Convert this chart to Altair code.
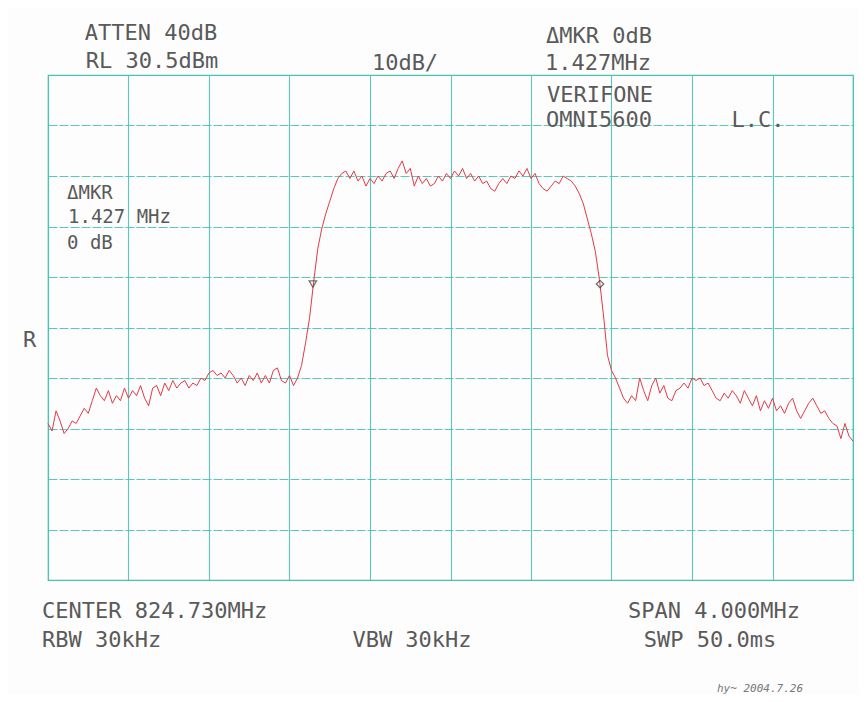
import altair as alt
import pandas as pd

# ---------------- data ----------------
START_MHZ = 822.73          # left edge of the screen
SPAN_MHZ = 4.0              # SPAN 4.000MHz
REF_LEVEL = 30.5            # RL 30.5dBm
DB_PER_DIV = 10             # 10dB/

level_dbm = [
    -38.5, -40.0, -36.0, -38.0, -40.5, -39.5, -38.0, -38.5, -37.0, -35.5,
    -36.5, -34.0, -31.5, -33.0, -34.0, -32.0, -34.5, -33.0, -34.0, -31.5,
    -33.5, -32.0, -33.0, -31.0, -33.5, -35.0, -31.5, -31.0, -33.0, -30.5,
    -32.0, -30.0, -31.5, -30.5, -30.0, -31.5, -30.5, -31.0, -29.5, -30.0,
    -28.5, -28.0, -29.0, -28.5, -29.5, -28.0, -29.0, -30.5, -29.5, -31.0,
    -29.0, -30.0, -28.5, -30.5, -29.0, -30.5, -28.0, -27.5, -30.0, -30.5,
    -29.0, -31.0, -29.5, -27.0, -22.5, -17.5, -10.5, -4.0, 0.0, 3.0,
    5.5, 8.0, 10.0, 11.0, 11.5, 10.0, 11.5, 9.5, 10.5, 8.5,
    10.0, 9.0, 10.5, 9.5, 11.0, 11.5, 10.0, 12.0, 13.5, 11.0,
    12.0, 8.5, 10.5, 9.0, 10.0, 8.5, 9.0, 10.5, 9.5, 11.0,
    10.0, 11.5, 10.5, 12.0, 10.0, 11.0, 9.5, 10.5, 9.0, 9.5,
    8.0, 7.5, 9.0, 10.0, 9.0, 10.5, 10.0, 11.5, 10.5, 12.0,
    10.0, 11.0, 9.0, 8.0, 7.5, 8.5, 9.5, 9.0, 10.5, 10.0,
    9.5, 8.5, 7.0, 5.0, 2.0, -1.0, -4.5, -10.0, -17.0, -25.0,
    -28.0, -29.5, -31.5, -33.5, -34.5, -33.0, -34.0, -29.5, -32.0, -34.0,
    -31.0, -29.5, -32.5, -31.0, -33.5, -34.0, -32.0, -31.5, -30.5, -31.5,
    -29.5, -30.0, -29.5, -31.0, -30.5, -32.0, -33.5, -34.0, -32.5, -33.5,
    -32.0, -33.0, -34.5, -32.0, -33.5, -35.0, -33.0, -36.0, -34.0, -35.5,
    -33.5, -36.0, -35.0, -36.5, -34.5, -33.5, -36.0, -37.5, -36.0, -34.5,
    -33.5, -35.0, -36.5, -36.0, -37.5, -38.5, -39.0, -41.5, -38.5, -41.0,
    -42.0,
]

marker_freq = [824.046, 825.473]
marker_level = [-10.9, -10.9]
marker_kind = ["triangle-down", "diamond"]

# ---------------- styling ----------------
FONT = "DejaVu Sans Mono"
TXT = "#5a5a5a"
GRID = "#48c3b1"
TRACE = "#e23a48"
FS = 22

n = len(level_dbm)
step = SPAN_MHZ / (n - 1)
trace = pd.DataFrame({
    "freq": [START_MHZ + step * i for i in range(n)],
    "level": level_dbm,
})
markers = pd.DataFrame({"freq": marker_freq, "level": marker_level, "kind": marker_kind})

x_ticks = [round(START_MHZ + SPAN_MHZ / 10 * k, 4) for k in range(11)]
y_ticks = [REF_LEVEL - DB_PER_DIV * k for k in range(11)]

x_scale = alt.Scale(domain=[START_MHZ, START_MHZ + SPAN_MHZ], nice=False, zero=False)
y_scale = alt.Scale(domain=[REF_LEVEL - 10 * DB_PER_DIV, REF_LEVEL], nice=False, zero=False)
x_axis = alt.Axis(values=x_ticks, labels=False, ticks=False, domain=False, title=None,
                  grid=True, gridColor=GRID, gridWidth=1.1, gridOpacity=0.9)
y_axis = alt.Axis(values=y_ticks, labels=False, ticks=False, domain=False, title=None,
                  grid=True, gridColor=GRID, gridWidth=1.1, gridOpacity=0.9,
                  gridDash=[9, 2])

line = alt.Chart(trace).mark_line(color=TRACE, strokeWidth=1, interpolate="linear").encode(
    x=alt.X("freq:Q", scale=x_scale, axis=x_axis),
    y=alt.Y("level:Q", scale=y_scale, axis=y_axis),
)

pts = alt.Chart(markers).mark_point(filled=False, color="#3a3a3a", strokeWidth=1.3, size=55).encode(
    x=alt.X("freq:Q", scale=x_scale),
    y=alt.Y("level:Q", scale=y_scale),
    shape=alt.Shape("kind:N", scale=alt.Scale(domain=marker_kind, range=marker_kind), legend=None),
)


def label(text, x, y, align="left", size=FS, style="normal", color=TXT):
    return alt.Chart(pd.DataFrame({"t": [text]})).mark_text(
        align=align, baseline="alphabetic", font=FONT, fontSize=size,
        fontStyle=style, color=color,
    ).encode(text="t:N", x=alt.value(x), y=alt.value(y))


# positions relative to the plot origin (top-left grid corner)
texts = [
    label("ATTEN 40dB", 103, -35, "center"),
    label("RL 30.5dBm", 104, -7, "center"),
    label("10dB/", 357, -5, "center"),
    label("ΔMKR 0dB", 551, -32, "center"),
    label("1.427MHz", 550, -5, "center"),
    label("VERIFONE", 552, 27, "center"),
    label("OMNI5600", 551, 52, "center"),
    label("L.C.", 710, 52, "center"),
    label("ΔMKR", 19, 124, size=19),
    label("1.427 MHz", 20, 148, size=19),
    label("0 dB", 19, 174, size=19),
    label("R", -25, 272),
    label("CENTER 824.730MHz", -6, 543),
    label("RBW 30kHz", -6, 572),
    label("VBW 30kHz", 364, 572, "center"),
    label("SPAN 4.000MHz", 666, 543, "center"),
    label("SWP 50.0ms", 662, 572, "center"),
    label("hy~ 2004.7.26", 712, 617, "center", size=11, style="italic", color="#777"),
]

chart = alt.layer(line, pts, *texts).properties(
    width=805,
    height=505,
    padding={"left": 40, "top": 67, "right": 6, "bottom": 114},
    autosize=alt.AutoSizeParams(type="none"),
    background="#fdfdfd",
).configure_view(stroke=GRID, strokeWidth=1.2)

chart.save("out.html", embed_options={"renderer": "svg", "actions": False})
